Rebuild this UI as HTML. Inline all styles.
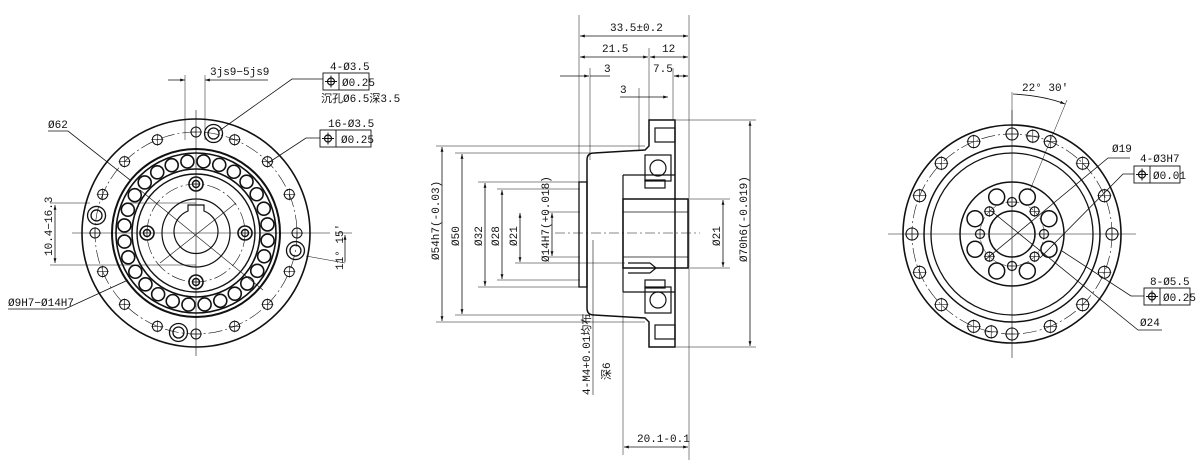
<!DOCTYPE html>
<html><head><meta charset="utf-8"><style>
html,body{margin:0;padding:0;background:#fff;}
svg{display:block}
text{font-family:"Liberation Mono","Noto Sans CJK SC",monospace;font-size:11px;fill:#111}
</style></head><body>
<svg id="s" width="1200" height="468" viewBox="0 0 1200 468" xmlns="http://www.w3.org/2000/svg">
<defs>
<marker id="a" viewBox="0 0 10 10" refX="10" refY="5" markerWidth="8" markerHeight="6" orient="auto-start-reverse"><path d="M0,2 L10,5 L0,8z" fill="#111"/></marker>
</defs>
<g id="g" stroke="#111" fill="none" stroke-width="1.2">
<!-- LEFT VIEW -->
<circle cx="196" cy="233" r="114" stroke-width="1.6"/>
<circle cx="196" cy="233" r="101" stroke-width="0.6" stroke-dasharray="14 3 2 3"/>
<circle cx="196" cy="233" r="84" stroke-width="2"/>
<circle cx="196" cy="233" r="80" stroke-width="1.6"/>
<circle cx="196" cy="233" r="64" stroke-width="1.6"/>
<circle cx="196" cy="233" r="59" stroke-width="1.4"/>
<circle cx="196" cy="233" r="49" stroke-width="0.6" stroke-dasharray="14 3 2 3"/>
<circle cx="196" cy="233" r="34"/>
<path d="M188,211 L188,205 L204,205 L204,211 A22,22 0 1 1 188,211z"/>
<line x1="196" y1="110" x2="196" y2="356" stroke-width="0.6"/>
<line x1="72" y1="233" x2="330" y2="233" stroke-width="0.6"/>
<line x1="130" y1="203" x2="196" y2="203" stroke-width="0.5"/>
<line x1="50" y1="203" x2="90" y2="203" stroke-width="0.5"/>
<line x1="50" y1="265" x2="196" y2="265" stroke-width="0.5"/>
<line x1="55" y1="205" x2="55" y2="263" stroke-width="0.8" marker-start="url(#a)" marker-end="url(#a)"/>
<line x1="185" y1="75" x2="185" y2="140" stroke-width="0.5"/>
<line x1="205" y1="75" x2="205" y2="140" stroke-width="0.5"/>
<line x1="168" y1="80" x2="185" y2="80" stroke-width="0.8" marker-end="url(#a)"/>
<line x1="268" y1="80" x2="205" y2="80" stroke-width="0.8" marker-end="url(#a)"/>
<polyline points="48,131 68,131 130,180" stroke-width="0.8"/>
<polyline points="8,309 65,309 128,280" stroke-width="0.8"/>
<polyline points="219,131 292,79 323,79" stroke-width="0.8"/>
<polyline points="268,163 306,138 320,138" stroke-width="0.8"/>
<line x1="160" y1="263" x2="236" y2="203" stroke-width="0.6"/>
<line x1="140" y1="190" x2="263" y2="290" stroke-width="0.6"/>
<line x1="306" y1="256" x2="345" y2="263" stroke-width="0.6"/>
<line x1="335" y1="233" x2="352" y2="233" stroke-width="0.6"/>
<line x1="345" y1="235" x2="345" y2="262" stroke-width="0.8" marker-start="url(#a)"/>
<rect x="323" y="73" width="46" height="17" stroke-width="0.9"/>
<line x1="339" y1="73" x2="339" y2="90" stroke-width="0.9"/>
<rect x="320" y="130" width="51" height="17" stroke-width="0.9"/>
<line x1="336" y1="130" x2="336" y2="147" stroke-width="0.9"/>
<!-- MIDDLE VIEW -->
<path d="M649,120 L675,120 L675,347 L649,347 L649,322 L645,318 L594,315 Q587,315 587,308 L587,160 Q587,153 594,153 L645,150 L649,146 Z" stroke-width="1.5"/>
<rect x="579" y="182" width="8" height="105" stroke-width="1.3"/>
<rect x="623" y="199" width="65" height="69" stroke-width="1.5"/>
<line x1="623" y1="175" x2="623" y2="292"/>
<line x1="623" y1="175" x2="675" y2="175"/><line x1="623" y1="292" x2="675" y2="292"/>
<line x1="623" y1="212" x2="688" y2="212" stroke-width="0.8"/>
<line x1="623" y1="257" x2="688" y2="257" stroke-width="0.8"/>
<line x1="628" y1="263" x2="650" y2="263"/><line x1="628" y1="273" x2="650" y2="273"/><path d="M650,263 L656,268 L650,273"/>
<rect x="645" y="155" width="26" height="26"/><circle cx="658" cy="168" r="8"/>
<rect x="645" y="287" width="26" height="26"/><circle cx="658" cy="300" r="8"/>
<rect x="655" y="128" width="20" height="14"/><rect x="655" y="325" width="20" height="14"/>
<rect x="645" y="180" width="20" height="8"/><rect x="645" y="280" width="20" height="8"/>
<line x1="579" y1="15" x2="579" y2="200" stroke-width="0.5"/>
<line x1="689" y1="15" x2="689" y2="460" stroke-width="0.5"/>
<line x1="649" y1="48" x2="649" y2="120" stroke-width="0.5"/>
<line x1="590" y1="68" x2="590" y2="160" stroke-width="0.5"/>
<line x1="673" y1="68" x2="673" y2="120" stroke-width="0.5"/>
<line x1="639" y1="88" x2="639" y2="150" stroke-width="0.5"/>
<line x1="623" y1="268" x2="623" y2="455" stroke-width="0.5"/>
<line x1="580" y1="36" x2="688" y2="36" stroke-width="0.8" marker-start="url(#a)" marker-end="url(#a)"/>
<line x1="580" y1="57" x2="648" y2="57" stroke-width="0.8" marker-start="url(#a)" marker-end="url(#a)"/>
<line x1="650" y1="57" x2="688" y2="57" stroke-width="0.8" marker-start="url(#a)" marker-end="url(#a)"/>
<line x1="560" y1="76" x2="589" y2="76" stroke-width="0.8" marker-end="url(#a)"/>
<line x1="590" y1="76" x2="610" y2="76" stroke-width="0.8"/>
<line x1="674" y1="76" x2="688" y2="76" stroke-width="0.8" marker-start="url(#a)" marker-end="url(#a)"/>
<line x1="620" y1="97" x2="668" y2="97" stroke-width="0.8" marker-end="url(#a)"/>
<line x1="624" y1="447" x2="688" y2="447" stroke-width="0.8" marker-start="url(#a)" marker-end="url(#a)"/>
<line x1="436" y1="146" x2="645" y2="146" stroke-width="0.5"/>
<line x1="436" y1="322" x2="645" y2="322" stroke-width="0.5"/>
<line x1="455" y1="153" x2="590" y2="153" stroke-width="0.5"/>
<line x1="455" y1="315" x2="590" y2="315" stroke-width="0.5"/>
<line x1="478" y1="182" x2="580" y2="182" stroke-width="0.5"/>
<line x1="478" y1="287" x2="580" y2="287" stroke-width="0.5"/>
<line x1="497" y1="189" x2="580" y2="189" stroke-width="0.5"/>
<line x1="497" y1="280" x2="580" y2="280" stroke-width="0.5"/>
<line x1="515" y1="263" x2="625" y2="263" stroke-width="0.5"/>
<line x1="547" y1="212" x2="580" y2="212" stroke-width="0.5"/>
<line x1="547" y1="257" x2="580" y2="257" stroke-width="0.5"/>
<line x1="442" y1="147" x2="442" y2="321" stroke-width="0.8" marker-start="url(#a)" marker-end="url(#a)"/>
<line x1="462" y1="154" x2="462" y2="314" stroke-width="0.8" marker-start="url(#a)" marker-end="url(#a)"/>
<line x1="485" y1="183" x2="485" y2="286" stroke-width="0.8" marker-start="url(#a)" marker-end="url(#a)"/>
<line x1="502" y1="190" x2="502" y2="279" stroke-width="0.8" marker-start="url(#a)" marker-end="url(#a)"/>
<line x1="520" y1="213" x2="520" y2="262" stroke-width="0.8" marker-start="url(#a)" marker-end="url(#a)"/>
<line x1="552" y1="213" x2="552" y2="256" stroke-width="0.8" marker-start="url(#a)" marker-end="url(#a)"/>
<line x1="593" y1="240" x2="593" y2="395" stroke-width="0.6"/>
<line x1="690" y1="199" x2="730" y2="199" stroke-width="0.5"/>
<line x1="690" y1="268" x2="730" y2="268" stroke-width="0.5"/>
<line x1="676" y1="120" x2="756" y2="120" stroke-width="0.5"/>
<line x1="676" y1="347" x2="756" y2="347" stroke-width="0.5"/>
<line x1="723" y1="200" x2="723" y2="267" stroke-width="0.8" marker-start="url(#a)" marker-end="url(#a)"/>
<line x1="750" y1="121" x2="750" y2="346" stroke-width="0.8" marker-start="url(#a)" marker-end="url(#a)"/>
<line x1="555" y1="233" x2="700" y2="233" stroke-width="0.5" stroke-dasharray="10 3 2 3"/>
<!-- RIGHT VIEW -->
<circle cx="1012" cy="234" r="109" stroke-width="1.6"/>
<circle cx="1012" cy="234" r="100" stroke-width="0.6" stroke-dasharray="14 3 2 3"/>
<circle cx="1012" cy="234" r="88" stroke-width="1.5"/>
<circle cx="1012" cy="234" r="81" stroke-width="1.3"/>
<circle cx="1012" cy="234" r="52" stroke-width="1.5"/>
<circle cx="1012" cy="234" r="23" stroke-width="1.5"/>
<circle cx="1012" cy="234" r="32" stroke-width="0.5" stroke-dasharray="6 2"/>
<line x1="1012" y1="110" x2="1012" y2="358" stroke-width="0.6"/>
<line x1="888" y1="234" x2="1136" y2="234" stroke-width="0.6"/>
<line x1="1012" y1="92" x2="1012" y2="130" stroke-width="0.5"/>
<line x1="1067" y1="100" x2="1030" y2="190" stroke-width="0.5"/>
<path d="M1013,94 Q1045,96 1065,104" stroke-width="0.8" marker-end="url(#a)"/>
<polyline points="985,260 1108,158 1130,158" stroke-width="0.8"/>
<polyline points="1040,258 1123,174 1134,174" stroke-width="0.8"/>
<polyline points="1062,251 1131,296 1144,296" stroke-width="0.8"/>
<polyline points="990,210 1138,330 1162,330" stroke-width="0.8"/>
<rect x="1134" y="166" width="46" height="17" stroke-width="0.9"/>
<line x1="1150" y1="166" x2="1150" y2="183" stroke-width="0.9"/>
<rect x="1144" y="288" width="46" height="17" stroke-width="0.9"/>
<line x1="1160" y1="288" x2="1160" y2="305" stroke-width="0.9"/>
</g>
<g font-size="11">
<text x="210" y="75">3js9−5js9</text>
<text x="330" y="70">4-Ø3.5</text>
<text x="342" y="86">Ø0.25</text>
<text x="321" y="102" font-size="10">沉孔Ø6.5深3.5</text>
<text x="328" y="127">16-Ø3.5</text>
<text x="341" y="143">Ø0.25</text>
<text x="48" y="128">Ø62</text>
<text x="8" y="306">Ø9H7−Ø14H7</text>
<text transform="translate(52,256) rotate(-90)">10.4−16.3</text>
<text transform="translate(343,270) rotate(-90)">11° 15'</text>
<text x="610" y="31">33.5±0.2</text>
<text x="602" y="52">21.5</text><text x="662" y="52">12</text>
<text x="604" y="72">3</text><text x="653" y="72">7.5</text>
<text x="620" y="93">3</text>
<text x="637" y="442">20.1-0.1</text>
<text transform="translate(439,260) rotate(-90)">Ø54h7(-0.03)</text>
<text transform="translate(459,246) rotate(-90)">Ø50</text>
<text transform="translate(482,246) rotate(-90)">Ø32</text>
<text transform="translate(499,246) rotate(-90)">Ø28</text>
<text transform="translate(517,246) rotate(-90)">Ø21</text>
<text transform="translate(549,262) rotate(-90)">Ø14H7(+0.018)</text>
<text transform="translate(720,246) rotate(-90)">Ø21</text>
<text transform="translate(747,262) rotate(-90)">Ø70h6(-0.019)</text>
<text transform="translate(590,395) rotate(-90)">4-M4+0.01均布</text>
<text transform="translate(610,380) rotate(-90)">深6</text>
<text x="1022" y="91">22° 30'</text>
<text x="1112" y="152">Ø19</text>
<text x="1140" y="162">4-Ø3H7</text>
<text x="1153" y="179">Ø0.01</text>
<text x="1150" y="285">8-Ø5.5</text>
<text x="1163" y="301">Ø0.25</text>
<text x="1140" y="326">Ø24</text>
</g>
</svg>
<script>
var g=document.getElementById('g'),NS='http://www.w3.org/2000/svg';
function c(x,y,r,w){var e=document.createElementNS(NS,'circle');e.setAttribute('cx',x);e.setAttribute('cy',y);e.setAttribute('r',r);if(w)e.setAttribute('stroke-width',w);g.appendChild(e);}
function l(x1,y1,x2,y2,w){var e=document.createElementNS(NS,'line');e.setAttribute('x1',x1);e.setAttribute('y1',y1);e.setAttribute('x2',x2);e.setAttribute('y2',y2);e.setAttribute('stroke-width',w||0.6);g.appendChild(e);}
function hole(x,y,r,w){c(x,y,r,w);l(x-r-1,y,x+r+1,y);l(x,y-r-1,x,y+r+1);}
function sym(x,y){c(x,y,3.5,1.2);l(x-6,y,x+6,y,1);l(x,y-6,x,y+6,1);}
sym(331,81.5);sym(328,138.5);sym(1142,174.5);sym(1152,296.5);
function P(cx,cy,R,deg){var a=deg*Math.PI/180;return [cx+R*Math.sin(a),cy-R*Math.cos(a)];}
var i,p;
for(i=0;i<16;i++){p=P(196,233,101,i*22.5);hole(p[0],p[1],5,1);}
[10,100,190,280].forEach(function(d){p=P(196,233,101,d);c(p[0],p[1],9,1.3);c(p[0],p[1],5.5,1.3);});
for(i=0;i<28;i++){p=P(196,233,72,i*360/28+6);c(p[0],p[1],6.5,1.6);}
for(i=0;i<4;i++){p=P(196,233,49,i*90);c(p[0],p[1],7,1.6);hole(p[0],p[1],3.5,1.4);}
for(i=0;i<16;i++){p=P(1012,234,100,i*22.5);hole(p[0],p[1],6,1.1);}
[12,192].forEach(function(d){p=P(1012,234,100,d);hole(p[0],p[1],6,1.1);});
for(i=0;i<8;i++){p=P(1012,234,40,i*45+22.5);c(p[0],p[1],8,1.5);}
for(i=0;i<8;i++){p=P(1012,234,32,i*45);hole(p[0],p[1],4.5,1.2);}
</script>
</body></html>
